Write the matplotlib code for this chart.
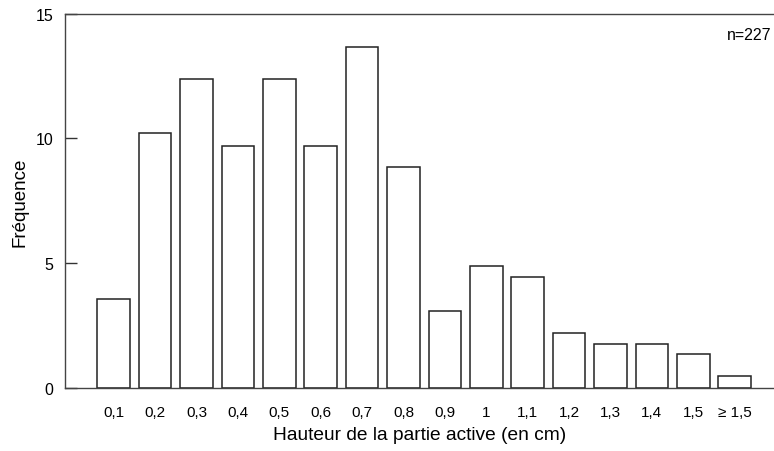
import matplotlib.pyplot as plt
from matplotlib import font_manager

# hauteur de la partie active, fréquence en %
categories = ["0,1", "0,2", "0,3", "0,4", "0,5", "0,6", "0,7", "0,8",
              "0,9", "1", "1,1", "1,2", "1,3", "1,4", "1,5", "≥ 1,5"]
frequences = [3.55, 10.2, 12.4, 9.7, 12.4, 9.7, 13.65, 8.85,
              3.1, 4.9, 4.45, 2.2, 1.75, 1.75, 1.35, 0.5]
yticks = [0, 5, 10, 15]
n_label = "n=227"

names = {f.name for f in font_manager.fontManager.ttflist}
narrow = "Liberation Sans Narrow" if "Liberation Sans Narrow" in names else "Liberation Sans"

plt.rcParams['font.family'] = ['Liberation Sans', 'DejaVu Sans']

fig = plt.figure(figsize=(7.74, 4.52), dpi=100)
ax = fig.add_axes([0.084, 0.1394, 0.916, 0.8281])

x = list(range(len(categories)))
ax.bar(x, frequences, width=0.79, color='white', edgecolor='#222222', linewidth=1.1)

ax.set_xlim(-1.176, 15.95)
ax.set_ylim(0, 15)
ax.set_yticks(yticks)
ax.set_xticks(x)
ax.set_xticklabels(categories, family=[narrow, 'DejaVu Sans'], fontsize=11)

ax.tick_params(axis='x', length=0, pad=12)
ax.tick_params(axis='y', direction='in', length=8.6, width=1, pad=8.6, labelsize=11.5, color='#333333')

for s in ['left', 'bottom', 'top']:
    ax.spines[s].set_color('#444444')
    ax.spines[s].set_linewidth(1)
ax.spines['right'].set_visible(False)

ax.set_xlabel("Hauteur de la partie active (en cm)", fontsize=13.8, labelpad=5)
ax.set_ylabel("Fréquence", fontsize=13.5, labelpad=5)

ax.text(0.997, 0.944, n_label, transform=ax.transAxes, ha='right', va='center', fontsize=11.5)

fig.savefig("out.png", dpi=100)
